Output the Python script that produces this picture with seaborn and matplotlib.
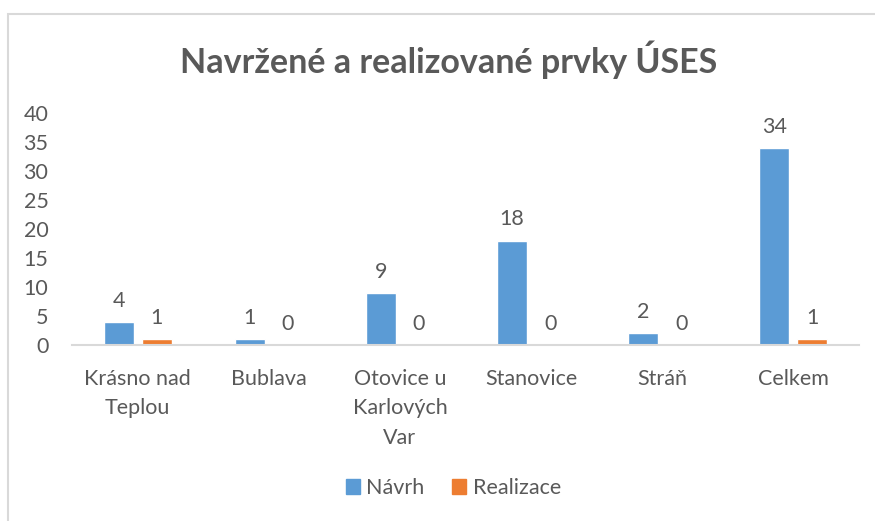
import matplotlib
matplotlib.use("Agg")
import matplotlib.pyplot as plt
import matplotlib.patches as mpatches
import seaborn as sns
import pandas as pd

# data
obce = ["Krásno nad Teplou", "Bublava", "Otovice u Karlových Var",
        "Stanovice", "Stráň", "Celkem"]
tick_labels = ["Krásno nad\nTeplou", "Bublava", "Otovice u\nKarlových\nVar",
               "Stanovice", "Stráň", "Celkem"]
navrh = [4, 1, 9, 18, 2, 34]
realizace = [1, 0, 0, 0, 0, 1]
serie = ["Návrh", "Realizace"]
barvy = ["#5B9BD5", "#ED7D31"]

df = pd.DataFrame({
    "obec": obce * 2,
    "pocet": navrh + realizace,
    "rada": [serie[0]] * len(obce) + [serie[1]] * len(obce),
})

sns.set_style("white")
plt.rcParams["font.family"] = ["Lato", "DejaVu Sans"]
text_color = "#595959"
fs = 15.5

fig = plt.figure(figsize=(8.75, 5.21), dpi=100)
ax = fig.add_axes([0.0823, 0.3378, 0.8994, 0.4453])

sns.barplot(
    data=df,
    x="obec",
    y="pocet",
    hue="rada",
    palette=barvy,
    saturation=1,
    width=0.58,
    gap=0.21,
    legend=False,
    ax=ax,
)

for cont in ax.containers:
    ax.bar_label(cont, padding=8, fontsize=fs, color=text_color)

ax.set_ylim(0, 40)
ax.set_yticks(range(0, 41, 5))
ax.set_xlim(-0.5, len(obce) - 0.5)
ax.set_xticks(range(len(obce)))
ax.set_xticklabels(tick_labels, fontsize=fs, color=text_color, linespacing=1.6)
ax.tick_params(axis="y", labelsize=fs, labelcolor=text_color, length=0, pad=17)
ax.tick_params(axis="x", length=0, pad=17)
ax.set_xlabel("")
ax.set_ylabel("")
for s in ["top", "right", "left"]:
    ax.spines[s].set_visible(False)
ax.spines["bottom"].set_color("#d9d9d9")
ax.spines["bottom"].set_linewidth(1.5)
ax.grid(False)

fig.text(0.513, 0.885, "Navržené a realizované prvky ÚSES",
         ha="center", va="center", fontsize=24.5, fontweight="bold", color=text_color)

handles = [mpatches.Patch(color=c, label=l) for c, l in zip(barvy, serie)]
fig.legend(handles=handles, loc="center", bbox_to_anchor=(0.518, 0.063), ncol=2,
           frameon=False, fontsize=fs, handlelength=0.65, handleheight=0.65,
           handletextpad=0.3, columnspacing=1.3, labelcolor=text_color)

frame = mpatches.Rectangle((0.0097, -0.05), 1.1, 0.9722 + 0.05, transform=fig.transFigure,
                           fill=False, edgecolor="#d9d9d9", linewidth=1.5, clip_on=False)
fig.patches.append(frame)

fig.savefig("out.png", dpi=100)
